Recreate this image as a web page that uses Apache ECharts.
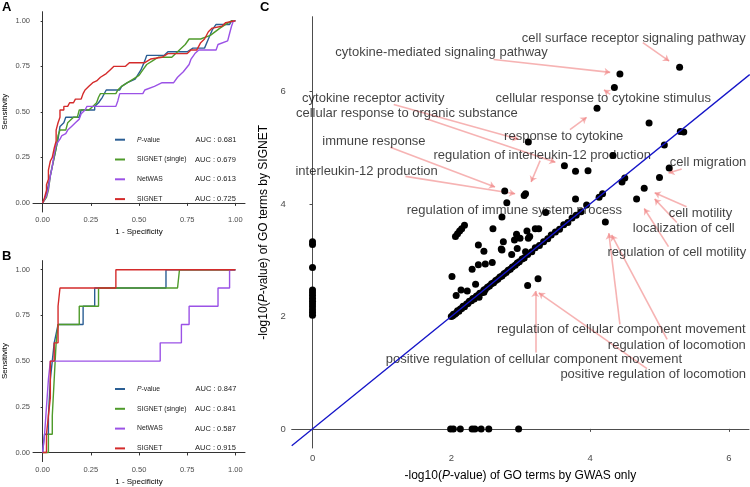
<!DOCTYPE html>
<html lang="en">
<head>
    <meta charset="UTF-8">
    <title>ROC and GO terms</title>
    <script src="https://cdn.jsdelivr.net/npm/echarts@6/dist/echarts.min.js"></script>
</head>
<style>
    html, body { margin: 0; padding: 0; background: #fff; }
    #container { width: 750px; height: 487px; }
</style>
<body>
<div id="container"></div>
<script>
    var chart = echarts.init(document.getElementById('container'));

    // ROC curves, [1 - specificity, sensitivity]
    var rocNames = ['P-value', 'SIGNET (single)', 'NetWAS', 'SIGNET'];
    var rocColors = ['#2b5e94', '#4f9b2b', '#9b52e6', '#d42b2b'];
    var aucA = [0.681, 0.679, 0.613, 0.725];
    var aucB = [0.847, 0.841, 0.587, 0.915];
    var rocTicks = [0, 0.25, 0.5, 0.75, 1];

    var rocA_pvalue = [[0,0],[0.01,0.02],[0.02,0.05],[0.03,0.10],[0.04,0.15],[0.05,0.20],[0.06,0.25],[0.07,0.30],[0.08,0.35],[0.09,0.42],[0.11,0.44],[0.12,0.47],[0.19,0.47],[0.20,0.51],[0.27,0.51],[0.27,0.53],[0.29,0.55],[0.31,0.58],[0.33,0.62],[0.40,0.62],[0.41,0.64],[0.44,0.66],[0.48,0.68],[0.51,0.73],[0.53,0.78],[0.54,0.81],[0.63,0.81],[0.65,0.83],[0.75,0.83],[0.78,0.85],[0.84,0.85],[0.86,0.90],[0.88,0.95],[0.90,0.98],[0.97,0.98],[0.98,1.0],[1,1]];
    var rocA_single = [[0,0],[0.02,0.03],[0.03,0.07],[0.04,0.15],[0.05,0.20],[0.06,0.25],[0.07,0.30],[0.08,0.37],[0.09,0.40],[0.12,0.40],[0.13,0.44],[0.16,0.47],[0.18,0.47],[0.19,0.51],[0.24,0.51],[0.26,0.53],[0.28,0.55],[0.29,0.58],[0.30,0.60],[0.38,0.60],[0.39,0.62],[0.41,0.64],[0.44,0.66],[0.47,0.68],[0.50,0.70],[0.52,0.73],[0.54,0.76],[0.57,0.78],[0.60,0.80],[0.67,0.80],[0.70,0.83],[0.74,0.87],[0.76,0.90],[0.82,0.90],[0.87,0.92],[0.92,0.96],[0.95,0.98],[0.98,1.0],[1,1]];
    var rocA_netwas = [[0,0],[0.02,0.04],[0.03,0.08],[0.04,0.15],[0.05,0.20],[0.06,0.27],[0.07,0.32],[0.09,0.35],[0.10,0.37],[0.12,0.38],[0.13,0.40],[0.15,0.42],[0.17,0.44],[0.19,0.46],[0.20,0.49],[0.22,0.51],[0.23,0.53],[0.38,0.53],[0.39,0.56],[0.40,0.60],[0.52,0.60],[0.53,0.62],[0.58,0.64],[0.62,0.66],[0.68,0.66],[0.70,0.69],[0.73,0.72],[0.76,0.76],[0.77,0.79],[0.79,0.82],[0.81,0.84],[0.90,0.84],[0.91,0.87],[0.96,0.89],[0.97,0.93],[0.98,0.97],[0.99,1.0],[1,1]];
    var rocA_signet = [[0,0],[0.01,0.03],[0.02,0.07],[0.02,0.10],[0.03,0.13],[0.03,0.18],[0.04,0.23],[0.05,0.25],[0.06,0.30],[0.07,0.34],[0.07,0.40],[0.08,0.44],[0.09,0.47],[0.09,0.51],[0.11,0.51],[0.11,0.53],[0.13,0.53],[0.14,0.55],[0.16,0.55],[0.17,0.57],[0.20,0.57],[0.21,0.60],[0.22,0.62],[0.24,0.64],[0.26,0.66],[0.28,0.67],[0.30,0.69],[0.33,0.71],[0.35,0.73],[0.37,0.75],[0.43,0.75],[0.45,0.77],[0.53,0.77],[0.56,0.79],[0.62,0.80],[0.65,0.82],[0.75,0.82],[0.77,0.84],[0.80,0.84],[0.82,0.88],[0.84,0.90],[0.86,0.94],[0.88,0.96],[0.93,0.97],[0.95,0.99],[0.96,1.0],[1,1]];

    var rocB_pvalue = [[0,0],[0.01,0],[0.01,0.1],[0.03,0.1],[0.03,0.2],[0.04,0.2],[0.04,0.4],[0.05,0.4],[0.05,0.5],[0.06,0.5],[0.06,0.6],[0.07,0.6],[0.08,0.7],[0.21,0.7],[0.21,0.8],[0.27,0.8],[0.27,0.9],[0.64,0.9],[0.64,1.0],[1,1]];
    var rocB_single = [[0,0],[0.03,0],[0.03,0.1],[0.05,0.1],[0.05,0.2],[0.06,0.2],[0.06,0.4],[0.07,0.4],[0.07,0.6],[0.08,0.7],[0.19,0.7],[0.19,0.8],[0.29,0.8],[0.29,0.9],[0.70,0.9],[0.71,1.0],[1,1]];
    var rocB_netwas = [[0,0],[0.01,0],[0.01,0.1],[0.02,0.1],[0.03,0.4],[0.04,0.4],[0.04,0.5],[0.61,0.5],[0.61,0.6],[0.72,0.6],[0.72,0.7],[0.76,0.7],[0.76,0.8],[0.91,0.8],[0.91,0.9],[0.97,0.9],[0.97,1.0],[1,1]];
    var rocB_signet = [[0,0],[0.02,0],[0.02,0.1],[0.03,0.1],[0.03,0.2],[0.04,0.3],[0.04,0.5],[0.06,0.5],[0.06,0.6],[0.08,0.6],[0.08,0.8],[0.09,0.8],[0.09,0.9],[0.38,0.9],[0.38,1.0],[1,1]];

    // GO terms, [-log10 P GWAS only, -log10 P SIGNET]
    var goTicks = [0, 2, 4, 6];
    var goZeroX = [3.33, 3.28, 2.87, 2.47, 2.42, 2.37, 2.32, 2.27, 2.22, 2.17, 2.12, 2.07, 2.02];
    var goZeroY = [1.99, 2.03, 2.13, 2.30, 2.34, 2.43, 2.54, 2.97];
    var goDiagonal = [[2.00,2.00],[2.02,2.01],[2.03,2.04],[2.05,2.04],[2.07,2.06],[2.09,2.10],[2.11,2.09],[2.13,2.13],[2.15,2.14],[2.17,2.18],[2.19,2.17],[2.22,2.22],[2.24,2.23],[2.26,2.27],[2.29,2.28],[2.31,2.32],[2.33,2.31],[2.36,2.36],[2.38,2.37],[2.40,2.34],[2.41,2.41],[2.44,2.42],[2.47,2.43],[2.47,2.47],[2.49,2.48],[2.52,2.52],[2.55,2.54],[2.58,2.58],[2.61,2.60],[2.64,2.64],[2.67,2.66],[2.70,2.70],[2.73,2.72],[2.76,2.76],[2.79,2.78],[2.82,2.82],[2.85,2.84],[2.88,2.88],[2.92,2.91],[2.95,2.95],[2.98,2.97],[3.02,3.02],[3.05,3.04],[3.07,3.15],[3.10,3.10],[3.16,3.15],[3.21,3.22],[3.27,3.26],[3.33,3.33],[3.39,3.38],[3.44,3.45],[3.50,3.50],[3.56,3.55],[3.62,3.63],[3.68,3.67],[3.74,3.75],[3.80,3.80],[3.87,3.86],[3.95,3.98],[4.13,4.12],[4.18,4.18],[4.46,4.39],[4.50,4.46],[5.07,5.05],[5.30,5.29],[5.35,5.28]];
    var goAbove = [[2.01,2.71],[2.07,2.37],[2.14,2.47],[2.23,2.45],[2.35,2.57],[2.30,2.84],[2.39,2.92],[2.49,2.93],[2.59,2.96],[2.47,3.16],[2.39,3.27],[2.72,3.20],[2.73,3.18],[2.87,3.10],[2.95,3.21],[2.75,3.33],[2.91,3.36],[2.99,3.39],[3.11,3.39],[3.13,3.42],[2.94,3.46],[2.60,3.56],[3.09,3.52],[3.21,3.56],[3.26,3.56],[2.06,3.42],[2.09,3.47],[2.12,3.52],[2.15,3.56],[2.19,3.62],[2.73,3.77],[3.36,3.85],[2.80,4.02],[3.79,4.09],[3.05,4.15],[3.07,4.18],[2.77,4.23],[3.63,4.68],[3.79,4.58],[3.97,4.59],[4.33,4.86],[3.11,5.10],[4.85,5.44],[4.10,5.70],[4.35,6.07],[4.43,6.31],[5.29,6.43]];
    var goBelow = [[3.10,2.55],[3.25,2.67],[4.22,3.68],[4.67,4.09],[4.78,4.28],[5.00,4.47],[5.14,4.64]];
    var diagEnds = [-0.3, 6.3];

    // GO term labels: name, label anchor, arrow start, arrow end
    var goLabels = ['cell surface receptor signaling pathway', 'cytokine-mediated signaling pathway',
        'cellular response to cytokine stimulus', 'cytokine receptor activity',
        'cellular response to organic substance', 'response to cytokine', 'immune response',
        'regulation of interleukin-12 production', 'interleukin-12 production',
        'regulation of immune system process', 'cell migration', 'cell motility',
        'localization of cell', 'regulation of cell motility',
        'regulation of cellular component movement', 'regulation of locomotion',
        'positive regulation of cellular component movement', 'positive regulation of locomotion'];
    var goLabelAt = [[4.63,6.94],[1.86,6.69],[4.19,5.87],[0.875,5.87],[1.36,5.61],[3.62,5.20],[0.885,5.12],
        [3.31,4.86],[0.78,4.58],[2.91,3.88],[5.70,4.74],[5.59,3.83],[5.35,3.56],[5.25,3.14],
        [4.45,1.76],[5.25,1.49],[3.19,1.23],[4.91,0.96]];
    var goArrowFrom = [[4.76,6.87],[2.61,6.57],[4.29,5.95],[1.17,5.77],[1.65,5.51],[3.71,5.32],[1.12,5.01],
        [3.28,4.77],[1.34,4.49],null,[5.32,4.62],[5.39,3.95],[5.25,3.67],[5.13,3.24],
        [4.43,1.86],[5.11,1.59],[3.21,1.36],[4.82,1.07]];
    var goArrowTo = [[5.14,6.54],[4.29,6.34],[4.20,6.03],[2.97,5.15],[3.50,4.74],[3.95,5.54],[2.63,4.30],
        [3.15,4.39],[2.92,4.18],null,[5.13,4.55],[4.93,4.20],[4.93,4.09],[4.78,3.92],
        [4.27,3.48],[4.31,3.45],[3.21,2.45],[3.26,2.42]];

    var font = 'Liberation Sans, Arial, sans-serif';

    function rocLegendFormatter(auc)
    {
        return function (name)
        {
            var i = rocNames.indexOf(name);
            var label = name === 'P-value' ? '{i|P}{m|-value}' : '{n|' + name + '}';
            return label + '{a|AUC : ' + auc[i].toFixed(3) + '}';
        };
    }

    var legendRich = {
        i: {fontStyle: 'italic', fontSize: 6.8, lineHeight: 10, color: '#222', padding: [0, 0, 0, 7], fontFamily: font},
        m: {fontSize: 6.8, lineHeight: 10, width: 54, color: '#222', fontFamily: font},
        n: {fontSize: 6.8, lineHeight: 10, width: 58, color: '#222', padding: [0, 0, 0, 7], fontFamily: font},
        a: {fontSize: 7.5, lineHeight: 10, color: '#222', fontFamily: font}
    };

    function rocXAxis(grid)
    {
        return {
            gridIndex: grid, type: 'value', min: -0.05, max: 1.05,
            name: '1 - Specificity', nameLocation: 'middle', nameGap: 16,
            nameTextStyle: {fontSize: 8, color: '#000', fontFamily: font},
            axisLine: {lineStyle: {color: '#333', width: 1}},
            axisTick: {customValues: rocTicks, length: 3, lineStyle: {color: '#333'}},
            axisLabel: {customValues: rocTicks, fontSize: 7.5, color: '#4d4d4d', margin: 4, fontFamily: font,
                formatter: function (v) { return v.toFixed(2); }},
            splitLine: {show: false}
        };
    }

    function rocYAxis(grid)
    {
        return {
            gridIndex: grid, type: 'value', min: -0.05, max: 1.05,
            name: 'Sensitivity', nameLocation: 'middle', nameGap: 24, nameRotate: 90,
            nameTextStyle: {fontSize: 8, color: '#000', fontFamily: font},
            axisLine: {show: true, lineStyle: {color: '#333', width: 1}},
            axisTick: {show: true, customValues: rocTicks, length: 2, lineStyle: {color: '#333'}},
            axisLabel: {customValues: rocTicks, fontSize: 7.5, color: '#4d4d4d', margin: 3, fontFamily: font,
                formatter: function (v) { return v.toFixed(2); }},
            splitLine: {show: false}
        };
    }

    function rocSeries(grid, curves)
    {
        return curves.map(function (d, i)
        {
            return {
                name: rocNames[i], type: 'line', xAxisIndex: grid, yAxisIndex: grid,
                data: d, showSymbol: false, symbol: 'none', silent: true,
                lineStyle: {color: rocColors[i], width: 1.4}, itemStyle: {color: rocColors[i]},
                z: 2 + i
            };
        });
    }

    function goScatter(data)
    {
        return {
            type: 'scatter', xAxisIndex: 2, yAxisIndex: 2, data: data, symbolSize: 7,
            itemStyle: {color: '#000', opacity: 1}, silent: true, z: 4
        };
    }

    var arrows = [];
    goArrowFrom.forEach(function (p, i)
    {
        if (p) arrows.push({coords: [p, goArrowTo[i]]});
    });

    var option = {
        animation: false,
        textStyle: {fontFamily: font},
        title: [
            {text: 'A', left: 2, top: 1, padding: 0, textStyle: {fontSize: 13, fontWeight: 'bold', color: '#000', fontFamily: font}},
            {text: 'B', left: 2, top: 250, padding: 0, textStyle: {fontSize: 13, fontWeight: 'bold', color: '#000', fontFamily: font}},
            {text: 'C', left: 260, top: 1, padding: 0, textStyle: {fontSize: 13, fontWeight: 'bold', color: '#000', fontFamily: font}}
        ],
        legend: [
            {
                data: rocNames, left: 115, top: 135.7, orient: 'vertical', padding: 0,
                itemGap: 11.8, itemWidth: 10, itemHeight: 2, icon: 'rect', selectedMode: false,
                formatter: rocLegendFormatter(aucA), textStyle: {rich: legendRich}
            },
            {
                data: rocNames, left: 115, top: 385, orient: 'vertical', padding: 0,
                itemGap: 11.8, itemWidth: 10, itemHeight: 2, icon: 'rect', selectedMode: false,
                formatter: rocLegendFormatter(aucB), textStyle: {rich: legendRich}
            }
        ],
        grid: [
            {left: 33, top: 11.7, width: 212, height: 200.3},
            {left: 33, top: 260.6, width: 212, height: 201},
            {left: 291.7, top: 16.7, width: 457.3, height: 434}
        ],
        xAxis: [
            rocXAxis(0),
            rocXAxis(1),
            {
                gridIndex: 2, type: 'value', min: -0.3, max: 6.29,
                name: '-log10({it|P}-value) of GO terms by GWAS only', nameLocation: 'middle', nameGap: 22,
                nameTextStyle: {fontSize: 12, color: '#000', fontFamily: font,
                    rich: {it: {fontSize: 12, fontStyle: 'italic', color: '#000', fontFamily: font}}},
                axisLine: {lineStyle: {color: '#4d4d4d', width: 1}},
                axisTick: {customValues: goTicks, length: 3, lineStyle: {color: '#4d4d4d'}},
                axisLabel: {customValues: goTicks, fontSize: 9.5, color: '#4d4d4d', margin: 5, fontFamily: font},
                splitLine: {show: false}
            }
        ],
        yAxis: [
            rocYAxis(0),
            rocYAxis(1),
            {
                gridIndex: 2, type: 'value', min: -0.34, max: 7.33,
                name: '-log10({it|P}-value) of GO terms by SIGNET', nameLocation: 'middle', nameGap: 20, nameRotate: 90,
                nameTextStyle: {fontSize: 12, color: '#000', fontFamily: font,
                    rich: {it: {fontSize: 12, fontStyle: 'italic', color: '#000', fontFamily: font}}},
                axisLine: {show: true, lineStyle: {color: '#4d4d4d', width: 1}},
                axisTick: {show: true, customValues: goTicks, length: 3, lineStyle: {color: '#4d4d4d'}},
                axisLabel: {customValues: goTicks, fontSize: 9.5, color: '#4d4d4d', margin: 6, fontFamily: font},
                splitLine: {show: false}
            }
        ],
        series: []
            .concat(rocSeries(0, [rocA_pvalue, rocA_single, rocA_netwas, rocA_signet]))
            .concat(rocSeries(1, [rocB_pvalue, rocB_single, rocB_netwas, rocB_signet]))
            .concat([
                {
                    type: 'lines', coordinateSystem: 'cartesian2d', xAxisIndex: 2, yAxisIndex: 2,
                    data: arrows, symbol: ['none', 'arrow'], symbolSize: 6, silent: true,
                    lineStyle: {color: '#f08080', width: 1.6, opacity: 0.6, curveness: 0}, z: 1
                },
                {
                    type: 'scatter', xAxisIndex: 2, yAxisIndex: 2, symbolSize: 1, silent: true,
                    itemStyle: {color: 'transparent'},
                    data: goLabels.map(function (n, i) { return {name: n, value: goLabelAt[i]}; }),
                    label: {show: true, position: 'inside', formatter: '{b}', fontSize: 13, color: '#111', fontFamily: font},
                    z: 2
                },
                goScatter(goZeroX.map(function (y) { return [0, y]; })),
                goScatter(goZeroY.map(function (x) { return [x, 0]; })),
                goScatter(goDiagonal),
                goScatter(goAbove),
                goScatter(goBelow),
                {
                    type: 'line', xAxisIndex: 2, yAxisIndex: 2, showSymbol: false, symbol: 'none', silent: true,
                    data: diagEnds.map(function (v) { return [v, v]; }),
                    lineStyle: {color: '#1414c8', width: 1.3}, z: 6
                }
            ])
    };

    chart.setOption(option);
</script>
</body>
</html>
